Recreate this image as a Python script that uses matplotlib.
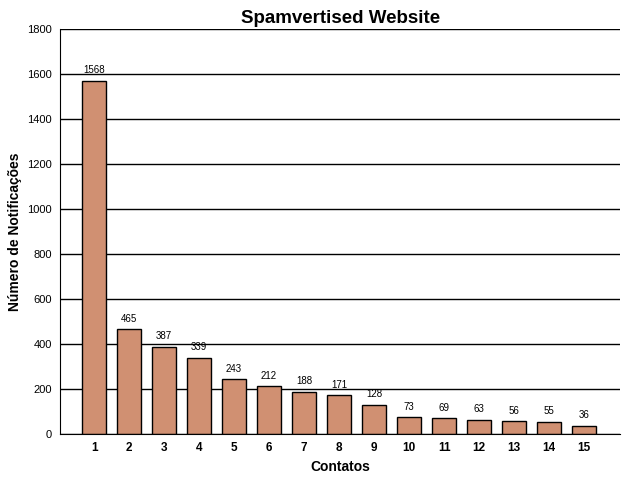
import matplotlib
matplotlib.use('Agg')
import matplotlib.pyplot as plt

plt.rcParams['font.family'] = ['Liberation Sans', 'DejaVu Sans']

# data
contatos = list(range(1, 16))
notificacoes = [1568, 465, 387, 339, 243, 212, 188, 171, 128, 73, 69, 63, 56, 55, 36]

fig = plt.figure(figsize=(6.4, 4.8), dpi=100)
ax = fig.add_axes([0.094, 0.096, 0.875, 0.844])

ax.set_axisbelow(True)
ax.yaxis.grid(True, color='black', linewidth=1)
bars = ax.bar(contatos, notificacoes, width=0.69, color='#D09072',
              edgecolor='black', linewidth=1)

for b, v in zip(bars, notificacoes):
    ax.text(b.get_x() + b.get_width() / 2, v + 25, str(v),
            ha='center', va='bottom', fontsize=7)

ax.set_xlim(0.03, 16.03)
ax.set_ylim(0, 1800)
ax.set_yticks(range(0, 1801, 200))
ax.set_xticks(contatos)
ax.tick_params(axis='both', length=0, labelsize=8, pad=6)
ax.tick_params(axis='x', labelsize=8.5)
for lbl in ax.get_xticklabels():
    lbl.set_fontweight('bold')

ax.spines['top'].set_visible(False)
ax.spines['right'].set_visible(False)

ax.set_title('Spamvertised Website', fontsize=13.5, fontweight='bold', pad=4)
ax.set_xlabel('Contatos', fontsize=10, fontweight='bold')
ax.set_ylabel('Número de Notificações', fontsize=10, fontweight='bold')

fig.savefig('out.png', dpi=100)
